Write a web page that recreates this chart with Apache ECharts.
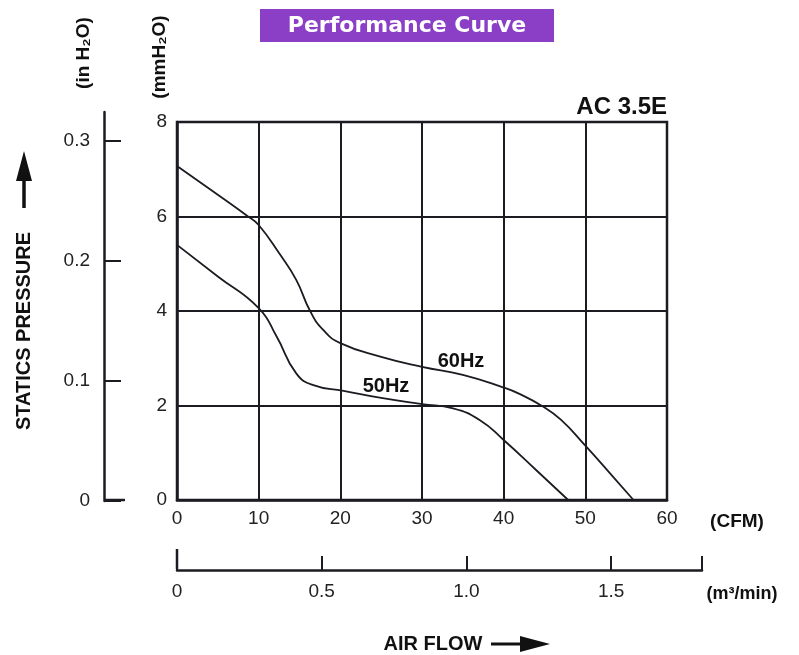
<!DOCTYPE html>
<html><head><meta charset="utf-8">
<script src="https://cdn.jsdelivr.net/npm/echarts@6/dist/echarts.min.js"></script>
<style>html,body{margin:0;padding:0;background:#fff}#c{width:799px;height:655px}</style>
</head><body><div id="c"></div>
<script>
// Air flow (CFM) vs static pressure (mmH2O)
const hz60 = [[0,7.07],[4,6.58],[8.7,6.0],[10,5.82],[12.6,5.2],[14.6,4.66],[16.3,4.0],[17.9,3.6],[20,3.32],[25,3.03],[30,2.82],[35,2.65],[40,2.38],[42,2.24],[44.6,2.0],[47,1.7],[50,1.15],[53,0.57],[55.9,0]];
const hz50 = [[0,5.40],[5,4.73],[10,4.06],[12.2,3.46],[14.6,2.68],[16.7,2.43],[20.4,2.31],[25,2.16],[30,2.03],[33.8,1.94],[37.1,1.69],[40,1.27],[44,0.63],[47.9,0]];
const inH2OTicks = [0,0.1,0.2,0.3];
const m3Ticks = [0,0.5,1.0,1.5];
const seriesNames = ['60Hz','50Hz'];

const chart = echarts.init(document.getElementById('c'));
const F = 'Liberation Sans, Arial, sans-serif';
const ink = '#1b1b22';
chart.setOption({
  animation:false,
  grid:[
    {left:177, top:122, width:490, height:378, show:true, borderColor:ink, borderWidth:2.5},
    {left:104, top:112, width:1, height:389},
    {left:177, top:569, width:525, height:1}
  ],
  xAxis:[
    {gridIndex:0, type:'value', min:0, max:60, interval:10,
     axisLine:{show:true, lineStyle:{color:ink, width:2.5}}, axisTick:{show:false},
     splitLine:{show:true, lineStyle:{color:ink, width:2}},
     axisLabel:{color:'#222', fontFamily:F, fontSize:19, margin:9}},
    {gridIndex:1, type:'value', min:0, max:1, show:false},
    {gridIndex:2, type:'value', min:0, max:1.814, position:'bottom',
     axisLine:{show:true, lineStyle:{color:ink, width:2.5}},
     axisTick:{show:true, inside:true, length:14, lineStyle:{color:ink, width:2}, customValues:[0,0.5,1.0,1.5,1.814]},
     splitLine:{show:false},
     axisLabel:{color:'#222', fontFamily:F, fontSize:19, margin:12, customValues:m3Ticks,
       formatter:v=> v===0?'0':v.toFixed(1)}}
  ],
  yAxis:[
    {gridIndex:0, type:'value', min:0, max:8, interval:2,
     axisLine:{show:true, lineStyle:{color:ink, width:2.5}}, axisTick:{show:false},
     splitLine:{show:true, lineStyle:{color:ink, width:2}},
     axisLabel:{color:'#222', fontFamily:F, fontSize:19, margin:10}},
    {gridIndex:1, type:'value', min:0, max:0.3242,
     axisLine:{show:true, lineStyle:{color:ink, width:2.5}},
     axisTick:{show:true, inside:true, length:17, lineStyle:{color:ink, width:2}, customValues:inH2OTicks},
     splitLine:{show:false},
     axisLabel:{color:'#222', fontFamily:F, fontSize:19, margin:14, customValues:inH2OTicks,
       formatter:v=> v===0?'0':v.toFixed(1)}},
    {gridIndex:2, type:'value', show:false}
  ],
  series:[
    {name:seriesNames[0], type:'line', xAxisIndex:0, yAxisIndex:0, data:hz60, smooth:0.5, showSymbol:false, lineStyle:{color:ink, width:1.8}},
    {name:seriesNames[1], type:'line', xAxisIndex:0, yAxisIndex:0, data:hz50, smooth:0.5, showSymbol:false, lineStyle:{color:ink, width:1.8}}
  ],
  graphic:[
    {type:'rect', shape:{x:260, y:9, width:294, height:33}, style:{fill:'#8a3fc6'}},
    {type:'text', x:407, y:26, style:{text:'Performance Curve', fill:'#fff', font:'bold 22px "DejaVu Sans", sans-serif', textAlign:'center', textVerticalAlign:'middle'}},
    {type:'text', x:667, y:107, style:{text:'AC 3.5E', fill:'#111', font:'bold 24px '+F, textAlign:'right', textVerticalAlign:'middle'}},
    {type:'text', x:461, y:361, style:{text:seriesNames[0], fill:'#111', font:'bold 20px '+F, textAlign:'center', textVerticalAlign:'middle'}},
    {type:'text', x:386, y:386, style:{text:seriesNames[1], fill:'#111', font:'bold 20px '+F, textAlign:'center', textVerticalAlign:'middle'}},
    {type:'text', x:84, y:53, rotation:Math.PI/2, style:{text:'(in H₂O)', fill:'#111', font:'bold 19px '+F, textAlign:'center', textVerticalAlign:'middle'}},
    {type:'text', x:160, y:57, rotation:Math.PI/2, style:{text:'(mmH₂O)', fill:'#111', font:'bold 19px '+F, textAlign:'center', textVerticalAlign:'middle'}},
    {type:'text', x:24, y:331, rotation:Math.PI/2, style:{text:'STATICS PRESSURE', fill:'#111', font:'bold 20px '+F, textAlign:'center', textVerticalAlign:'middle'}},
    {type:'line', shape:{x1:24, y1:208, x2:24, y2:175}, style:{stroke:'#111', lineWidth:3.5}},
    {type:'polygon', shape:{points:[[24,151],[16,181],[32,181]]}, style:{fill:'#111'}},
    {type:'text', x:737, y:522, style:{text:'(CFM)', fill:'#111', font:'bold 19px '+F, textAlign:'center', textVerticalAlign:'middle'}},
    {type:'text', x:742, y:594, style:{text:'(m³/min)', fill:'#111', font:'bold 18px '+F, textAlign:'center', textVerticalAlign:'middle'}},
    {type:'text', x:433, y:644, style:{text:'AIR FLOW', fill:'#111', font:'bold 20px '+F, textAlign:'center', textVerticalAlign:'middle'}},
    {type:'line', shape:{x1:491, y1:644, x2:525, y2:644}, style:{stroke:'#111', lineWidth:3}},
    {type:'polygon', shape:{points:[[550,644],[520,636],[520,652]]}, style:{fill:'#111'}},
    {type:'line', shape:{x1:177, y1:569, x2:177, y2:549}, style:{stroke:ink, lineWidth:2.5}},
    {type:'line', shape:{x1:104, y1:500, x2:125, y2:500}, style:{stroke:ink, lineWidth:2.5}}
  ]
});
</script></body></html>
